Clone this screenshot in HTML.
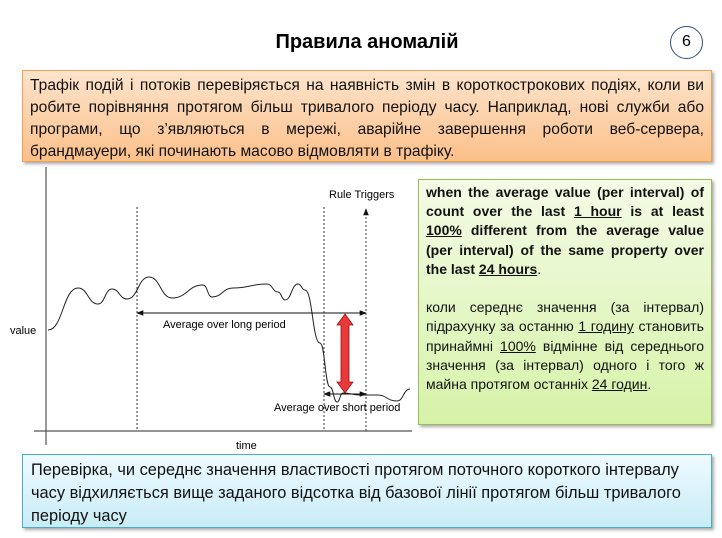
<!DOCTYPE html>
<html><head><meta charset="utf-8"><style>
body{margin:0;width:722px;height:538px;background:#fff;position:relative;overflow:hidden;font-family:"Liberation Sans","Noto Sans CJK SC",sans-serif}
.box{position:absolute;box-sizing:border-box;text-align:justify;color:#111}
</style></head><body>
<div style="position:absolute;left:0;width:734px;top:31px;text-align:center;font-weight:bold;font-size:20px">Правила аномалій</div>
<div style="position:absolute;left:670px;top:26px;width:33px;height:33px;border:1.5px solid #2f4f7f;border-radius:50%;box-sizing:border-box;text-align:center;line-height:30px;font-size:16px">6</div>
<div class="box" style="left:22px;top:70px;width:690px;height:92px;border:1px solid #f0a050;background:linear-gradient(#fde4cc,#fbc08a);padding:4px 7px;font-size:15.6px;line-height:22px;box-shadow:2px 2px 3px #aaa">Трафік подій і потоків перевіряється на наявність змін в короткострокових подіях, коли ви робите порівняння протягом більш тривалого періоду часу. Наприклад, нові служби або програми, що з’являються в мережі, аварійне завершення роботи веб-сервера, брандмауери, які починають масово відмовляти в трафіку.</div>
<div class="box" style="left:418px;top:179px;width:294px;height:246px;border:1px solid #9bbb59;background:linear-gradient(#f4fbe6,#d6f2a8);padding:3px 7px;font-size:14px;line-height:19.2px;box-shadow:2px 2px 3px #aaa"><b>when the average value (per interval) of count over the last <u>1 hour</u> is at least <u>100%</u> different from the average value (per interval) of the same property over the last <u>24 hours</u></b>.<br><br>коли середнє значення (за інтервал) підрахунку за останню <u>1 годину</u> становить принаймні <u>100%</u> відмінне від середнього значення (за інтервал) одного і того ж майна протягом останніх <u>24 годин</u>.</div>
<div class="box" style="left:22px;top:454px;width:690px;height:74px;border:1px solid #4bacc6;background:linear-gradient(#eefaff,#c9ecf7);padding:4px 8px;font-size:16.4px;line-height:23px;text-align:left;box-shadow:2px 2px 3px #aaa">Перевірка, чи середнє значення властивості протягом поточного короткого інтервалу часу відхиляється вище заданого відсотка від базової лінії протягом більш тривалого періоду часу</div>
<svg id="chart" width="722" height="538" style="position:absolute;left:0;top:0;pointer-events:none" font-family="Liberation Sans, sans-serif"></svg>
<script>
const times=[0,30,50,64,79,101,124,155,164,185,219,230,237,250,257,272,282,289,295,312,329,349,362];
const values=[74,116,100,115,105,127,106,119,107,116,120,112,104,120,114,61,17,2,11,9,9,3,15];
const longStart=89, shortStart=276, triggerT=318;
const longAvg=91, shortAvg=10;
const tickLabels={x:"time",y:"value"};
const svg=document.getElementById('chart');
const NS='http://www.w3.org/2000/svg';
const x0=48,y0=404,ky=-1;
const X=t=>x0+t, Y=v=>y0+v*ky;
function mk(tag,at,name){const e=document.createElementNS(NS,tag);for(const k in at)e.setAttribute(k,at[k]);


svg.appendChild(e);return e;}
const defs=document.createElementNS(NS,'defs');defs.innerHTML='<marker id="ar" viewBox="0 0 10 10" refX="9" refY="5" markerWidth="7" markerHeight="7" orient="auto-start-reverse"><path d="M0,1L10,5L0,9z" fill="#111"/></marker>';svg.appendChild(defs);
mk('line',{x1:46,y1:167,x2:46,y2:445,stroke:'#555','stroke-width':1.2},'y-axis');
mk('line',{x1:34,y1:431,x2:412,y2:431,stroke:'#555','stroke-width':1.2},'x-axis');
mk('text',{x:10,y:334,'font-size':11},'y-axis-title').textContent=tickLabels.y;
mk('text',{x:236,y:449,'font-size':11},'x-axis-title').textContent=tickLabels.x;
[longStart,shortStart].forEach((t,i)=>mk('line',{x1:X(t),y1:207,x2:X(t),y2:431,stroke:'#333','stroke-dasharray':'2,2'},'period-start-line-'+i));
mk('line',{x1:X(triggerT),y1:431,x2:X(triggerT),y2:209,stroke:'#333','stroke-dasharray':'2,2','marker-end':'url(#ar)'},'trigger-line');
mk('text',{x:329,y:198,'font-size':11},'rule-triggers-label').textContent='Rule Triggers';
let d='M'+X(times[0])+','+Y(values[0]);
for(let i=1;i<times.length;i++){const xm=(X(times[i-1])+X(times[i]))/2;d+=' C'+xm+','+Y(values[i-1])+' '+xm+','+Y(values[i])+' '+X(times[i])+','+Y(values[i]);}
mk('path',{d:d,fill:'none',stroke:'#222','stroke-width':1},'value-series');
mk('line',{x1:X(longStart),y1:Y(longAvg),x2:X(triggerT),y2:Y(longAvg),stroke:'#111','marker-start':'url(#ar)','marker-end':'url(#ar)'},'long-average-arrow');
mk('text',{x:163,y:328,'font-size':11},'long-average-label').textContent='Average over long period';
mk('line',{x1:X(shortStart),y1:Y(shortAvg),x2:X(triggerT),y2:Y(shortAvg),stroke:'#111','marker-start':'url(#ar)','marker-end':'url(#ar)'},'short-average-arrow');
mk('text',{x:274,y:411,'font-size':11},'short-average-label').textContent='Average over short period';
const ax=345,ya=Y(longAvg)+1,yb=Y(shortAvg)-1;
mk('path',{d:`M${ax},${ya} L${ax+8},${ya+11} L${ax+4},${ya+11} L${ax+4},${yb-11} L${ax+8},${yb-11} L${ax},${yb} L${ax-8},${yb-11} L${ax-4},${yb-11} L${ax-4},${ya+11} L${ax-8},${ya+11}Z`,fill:'#e83a3a',stroke:'#a01010','stroke-width':0.8},'difference-arrow');
</script>
</body></html>
